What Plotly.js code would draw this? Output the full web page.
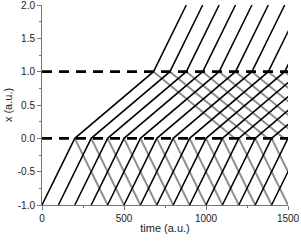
<!DOCTYPE html>
<html><head><meta charset="utf-8">
<script src="https://cdn.plot.ly/plotly-3.0.1.min.js"></script>
<style>html,body{margin:0;padding:0;background:#fff}</style>
</head><body><div id="chart" style="width:301px;height:241px"></div>
<script>
// Times at which each black (incident) ray is at x = -1, 0, 1, 2
const blackAtMinus1 = [0,100,200,300,400,500,600,700,800,900,1000,1100,1200,1300,1400];
const blackAtZero   = [200,300,400,500,600,700,800,900,1000,1100,1200,1300,1400,1500,1600];
const blackAtOne    = [680,780,880,980,1080,1180,1280,1380,1480,1580,1680,1780,1880,1980,2080];
const blackAtTwo    = [880,980,1080,1180,1280,1380,1480,1580,1680,1780,1880,1980,2080,2180,2280];
// Gray reflected ray from x=0 reaches x=-1 at these times
const grayFromZeroAtMinus1 = [400,500,600,700,800,900,1000,1100,1200,1300,1400,1500,1600,1700,1800];
// Gray reflected ray from x=1 reaches x=0 at these times
const grayFromOneAtZero   = [1175,1275,1375,1475,1575,1675,1775,1875,1975,2075,2175,2275,2375,2475,2575];
const levels = [-1,0,1,2];
const interfaceLevels = [0,1];
const timeRange = [0,1500];

const traces = [];
const gray = '#8e8e8e';
for (let i=0;i<blackAtZero.length;i++){
  traces.push({x:[blackAtZero[i],grayFromZeroAtMinus1[i]], y:[levels[1],levels[0]], mode:'lines', line:{color:gray,width:2}, hoverinfo:'skip'});
  traces.push({x:[blackAtOne[i],grayFromOneAtZero[i]], y:[levels[2],levels[1]], mode:'lines', line:{color:gray,width:2}, hoverinfo:'skip'});
}
for (let i=0;i<blackAtMinus1.length;i++){
  traces.push({x:[blackAtMinus1[i],blackAtZero[i],blackAtOne[i],blackAtTwo[i]], y:levels, mode:'lines', line:{color:'#000',width:1.5}, hoverinfo:'skip'});
}
interfaceLevels.forEach(v=>{
  traces.push({x:timeRange, y:[v,v], mode:'lines', line:{color:'#000',width:2.6,dash:'10px,7px'}, hoverinfo:'skip'});
});

const axisCommon = {showgrid:false, zeroline:false, showline:true, linecolor:'#777', linewidth:1,
  ticks:'outside', ticklen:4, tickcolor:'#777', tickwidth:1, ticklabeloverflow:'allow',
  tickfont:{family:'Liberation Sans, Arial, sans-serif', size:10, color:'#222'},
  minor:{ticks:'outside', ticklen:2, tickcolor:'#777', tickwidth:1}};
const layout = {
  width:301, height:241, showlegend:false,
  margin:{l:42,r:13,t:5,b:36},
  paper_bgcolor:'#fff', plot_bgcolor:'#fff',
  xaxis:Object.assign({}, axisCommon, {range:timeRange, tickvals:[0,500,1000,1500], minor:Object.assign({},axisCommon.minor,{dtick:250, tick0:0}),
    title:{text:'time (a.u.)', font:{family:'Liberation Sans, Arial, sans-serif', size:11, color:'#222'}, standoff:1}}),
  yaxis:Object.assign({}, axisCommon, {range:[-1,2], tickvals:[-1,-0.5,0,0.5,1,1.5,2], ticktext:['-1.0','-0.5','0.0','0.5','1.0','1.5','2.0'],
    minor:Object.assign({},axisCommon.minor,{dtick:0.25, tick0:0}),
    title:{text:'x (a.u.)', font:{family:'Liberation Sans, Arial, sans-serif', size:11, color:'#222'}, standoff:2}})
};
Plotly.newPlot('chart', traces, layout, {staticPlot:true, displayModeBar:false});
</script></body></html>
